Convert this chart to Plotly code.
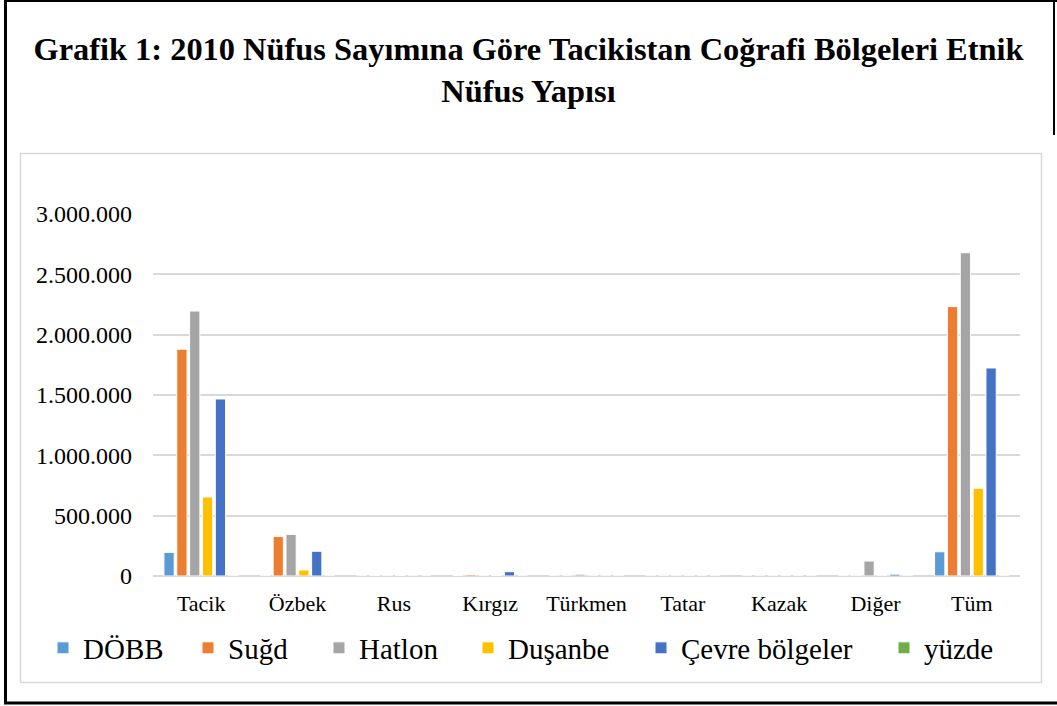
import plotly.graph_objects as go

categories = ["Tacik", "Özbek", "Rus", "Kırgız", "Türkmen", "Tatar", "Kazak", "Diğer", "Tüm"]
series_names = ["DÖBB", "Suğd", "Hatlon", "Duşanbe", "Çevre bölgeler", "yüzde"]
dobb = [196000, 800, 1000, 3500, 500, 100, 100, 2000, 201000]
sugd = [1880000, 327000, 5000, 12000, 300, 1500, 500, 6000, 2232000]
hatlon = [2196000, 345000, 2000, 1500, 15000, 200, 100, 124000, 2679000]
dusanbe = [655000, 50000, 2000, 3000, 100, 800, 200, 2000, 727000]
cevre = [1467000, 205000, 1000, 36000, 200, 300, 100, 15000, 1724000]
yuzde = [84.3, 12.2, 0.5, 0.8, 0.2, 0.1, 0.0, 1.9, 100]
colors = ["#5B9BD5", "#ED7D31", "#A5A5A5", "#FFC000", "#4472C4", "#70AD47"]
y_ticks = [0, 500000, 1000000, 1500000, 2000000, 2500000, 3000000]

W, H = 1057, 706
L, R, T, B = 153, 1020, 214, 576
FONT = "Liberation Serif"

fig = go.Figure()
all_vals = [dobb, sugd, hatlon, dusanbe, cevre, yuzde]
legend_text_x = [84, 229, 360, 509, 682, 925]
for i, (name, vals, col) in enumerate(zip(series_names, all_vals, colors)):
    lg = "legend" if i == 0 else f"legend{i+1}"
    fig.add_trace(go.Bar(
        name=name, x=categories, y=vals,
        marker=dict(color=col, line=dict(color="white", width=1)),
        legend=lg,
    ))

def px_x(p):
    return (p - L) / (R - L)

def px_y(p):
    return (B - p) / (B - T)

shapes = [
    # outer black frame
    dict(type="line", xref="paper", yref="paper", x0=px_x(5.5), x1=px_x(5.5), y0=px_y(0), y1=px_y(704), line=dict(color="black", width=3)),
    dict(type="line", xref="paper", yref="paper", x0=px_x(4), x1=px_x(1057), y0=px_y(1), y1=px_y(1), line=dict(color="black", width=2)),
    dict(type="line", xref="paper", yref="paper", x0=px_x(4), x1=px_x(1057), y0=px_y(703), y1=px_y(703), line=dict(color="black", width=3)),
    dict(type="line", xref="paper", yref="paper", x0=px_x(1054), x1=px_x(1054), y0=px_y(0), y1=px_y(135), line=dict(color="black", width=2)),
    # inner chart frame
    dict(type="rect", xref="paper", yref="paper", x0=px_x(20.5), x1=px_x(1041.5), y0=px_y(153.5), y1=px_y(682.5), line=dict(color="#D9D9D9", width=1.5)),
]

layout_legends = {}
for i in range(6):
    key = "legend" if i == 0 else f"legend{i+1}"
    layout_legends[key] = dict(
        x=(legend_text_x[i] - 41) / W, xref="container", xanchor="left",
        y=1 - 648 / H, yref="container", yanchor="middle",
        orientation="h", bgcolor="rgba(0,0,0,0)",
        font=dict(family=FONT, size=29, color="black"),
        itemclick=False, itemdoubleclick=False,
    )

fig.update_layout(
    width=W, height=H,
    margin=dict(l=L, r=W - R, t=T, b=H - B, pad=0, autoexpand=False),
    paper_bgcolor="white", plot_bgcolor="white",
    separators=",.",
    barmode="group", bargap=0.2, bargroupgap=0.2,
    showlegend=True,
    title=dict(
        text="<b>Grafik 1: 2010 Nüfus Sayımına Göre Tacikistan Coğrafi Bölgeleri Etnik<br>Nüfus Yapısı</b>",
        x=0.5, xref="container", xanchor="center",
        y=1 - 60 / H, yref="container", yanchor="middle",
        font=dict(family=FONT, size=32.4, color="black"),
    ),
    xaxis=dict(
        categoryorder="array", categoryarray=categories,
        showgrid=False, showline=False, zeroline=False,
        ticks="", ticklabelstandoff=12,
        tickfont=dict(family=FONT, size=22, color="black"),
        fixedrange=True,
    ),
    yaxis=dict(
        range=[0, 3000000], tickvals=y_ticks, tickformat=",d",
        showgrid=True, gridcolor="#D9D9D9", gridwidth=1.5,
        zeroline=True, zerolinecolor="#D9D9D9", zerolinewidth=1.5,
        showline=False, ticks="", ticklabelstandoff=20,
        tickfont=dict(family=FONT, size=24, color="black"),
        fixedrange=True,
    ),
    shapes=shapes,
    **layout_legends,
)

fig.write_html(
    "out.html",
    config={"displayModeBar": False, "staticPlot": False},
    post_script="document.body.style.margin='0';document.body.style.overflow='hidden';",
)
